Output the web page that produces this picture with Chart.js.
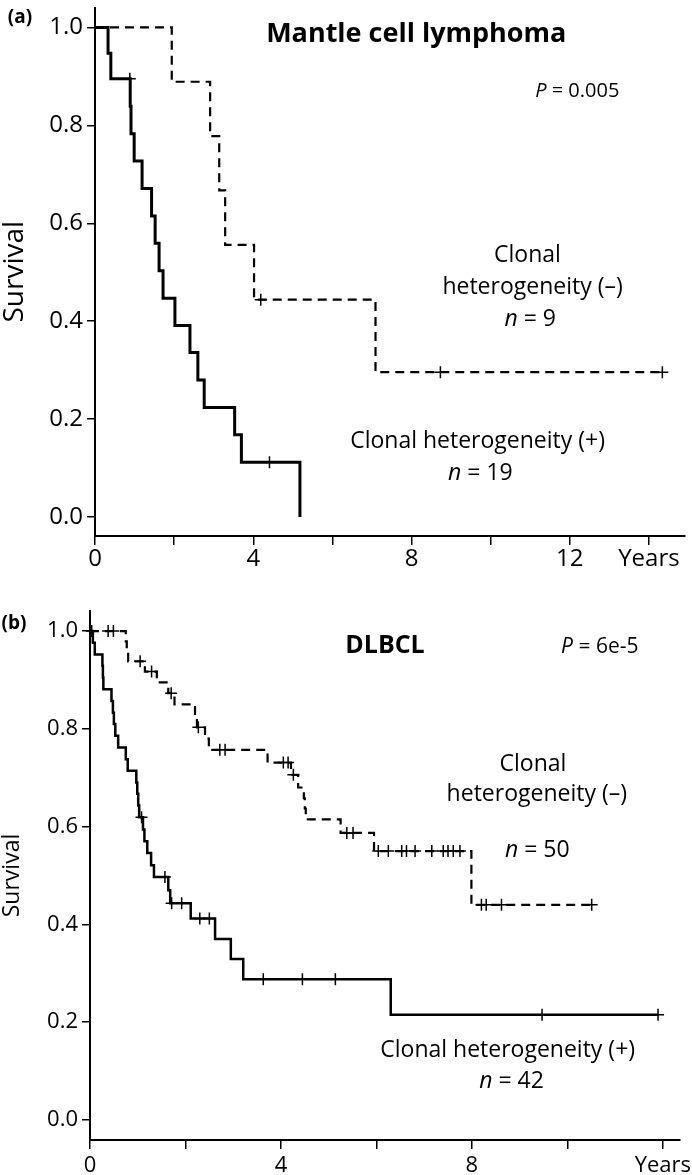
<!DOCTYPE html>
<html>
<head>
<meta charset="utf-8">
<script src="https://cdn.jsdelivr.net/npm/chart.js@4.4.1/dist/chart.umd.min.js"></script>
<style>
  body { margin: 0; background: #fff; }
  #wrap { position: relative; width: 692px; height: 1175px; overflow: hidden; }
  canvas { position: absolute; left: 0; }
</style>
</head>
<body>
<div id="wrap">
  <canvas id="mclChart" width="692" height="580" style="top:0"></canvas>
  <canvas id="dlbclChart" width="692" height="595" style="top:580px"></canvas>
</div>
<script>
// ---- (a) Mantle cell lymphoma ----
const mclPosTimes = [0, 0.33, 0.40, 0.89, 0.91, 0.99, 1.19, 1.43, 1.52, 1.62, 1.72, 2.02, 2.40, 2.60, 2.76, 3.53, 3.70, 5.18];
const mclPosSurv = [1, 0.947, 0.895, 0.839, 0.783, 0.727, 0.671, 0.615, 0.559, 0.503, 0.447, 0.391, 0.336, 0.280, 0.224, 0.168, 0.112, 0];
const mclPosCensor = [0.88, 4.41];

const mclNegTimes = [0, 1.94, 2.91, 3.14, 3.29, 4.02, 7.09];
const mclNegSurv = [1, 0.889, 0.778, 0.667, 0.556, 0.444, 0.296];
const mclNegCensor = [4.19, 8.73, 14.34];

const mclXTicks = [0, 2, 4, 6, 8, 10, 12, 14];

// ---- (b) DLBCL ----
const dlbclPosTimes = [0, 0.06, 0.10, 0.26, 0.27, 0.28, 0.45, 0.48, 0.50, 0.53, 0.59, 0.75, 0.79, 0.97, 0.99, 1.01, 1.03, 1.11, 1.14, 1.20, 1.28, 1.34, 1.64, 1.68, 2.11, 2.62, 2.95, 3.21, 6.30];
const dlbclPosSurv = [1, 0.976, 0.952, 0.929, 0.905, 0.881, 0.857, 0.833, 0.810, 0.786, 0.762, 0.738, 0.714, 0.690, 0.667, 0.643, 0.619, 0.594, 0.570, 0.546, 0.521, 0.497, 0.470, 0.443, 0.412, 0.370, 0.329, 0.288, 0.215];
const dlbclPosCensor = [1.08, 1.57, 1.71, 1.92, 2.30, 2.50, 3.63, 4.45, 5.14, 9.47, 11.90];

const dlbclNegTimes = [0, 0.75, 0.77, 0.80, 1.15, 1.40, 1.64, 1.77, 2.20, 2.24, 2.41, 2.49, 3.72, 4.21, 4.36, 4.48, 4.50, 4.52, 5.25, 5.95, 7.99];
const dlbclNegSurv = [1, 0.979, 0.957, 0.938, 0.917, 0.895, 0.873, 0.850, 0.826, 0.803, 0.780, 0.757, 0.731, 0.706, 0.680, 0.658, 0.637, 0.615, 0.587, 0.550, 0.440];
const dlbclNegCensor = [0.035, 0.38, 0.49, 1.05, 1.29, 1.70, 2.27, 2.72, 2.83, 4.05, 4.15, 4.26, 5.38, 5.51, 6.04, 6.25, 6.53, 6.63, 6.81, 7.16, 7.40, 7.50, 7.61, 7.75, 8.20, 8.30, 8.62, 10.51];

const dlbclXTicks = [0, 2, 4, 6, 8, 10, 12];
const survTicks = [0, 0.2, 0.4, 0.6, 0.8, 1.0];

const FONT = "'Open Sans', 'Noto Sans', sans-serif";

// survival value of a step curve at time t
function survAt(times, surv, t) {
    let s = surv[0];
    for (let i = 0; i < times.length; i++) {
        if (times[i] <= t) s = surv[i];
    }
    return s;
}

// step points, extended to the last censored patient
function kmPoints(times, surv, censor) {
    const pts = times.map((t, i) => ({ x: t, y: surv[i] }));
    const lastCensor = Math.max(...censor);
    if (lastCensor > times[times.length - 1]) {
        pts.push({ x: lastCensor, y: surv[surv.length - 1] });
    }
    return pts;
}

function censorPoints(times, surv, censor) {
    return censor.map(t => ({ x: t, y: survAt(times, surv, t) }));
}

function curve(points, dashed, width) {
    return {
        data: points,
        stepped: true,
        borderColor: '#000',
        borderWidth: width,
        borderDash: dashed ? [9, 6] : [],
        pointRadius: 0,
        fill: false,
        clip: false
    };
}

function marks(points) {
    return {
        data: points,
        showLine: false,
        pointStyle: 'cross',
        pointRadius: 6,
        pointBorderWidth: 1.5,
        pointBorderColor: '#000',
        pointBackgroundColor: '#000',
        clip: false
    };
}

// free text drawn at data coordinates, with italic runs
const textLabels = {
    id: 'textLabels',
    afterDraw(chart, args, opts) {
        const ctx = chart.ctx;
        const xs = chart.scales.x, ys = chart.scales.y;
        ctx.save();
        ctx.fillStyle = '#000';
        ctx.textBaseline = 'middle';
        ctx.textAlign = 'left';
        (opts.items || []).forEach(item => {
            const cx = item.px !== undefined ? item.px : xs.getPixelForValue(item.x);
            const cy = item.py !== undefined ? item.py : ys.getPixelForValue(item.y);
            const fontOf = p => `${p.italic ? 'italic ' : ''}${item.bold ? 'bold ' : ''}${item.size}px ${FONT}`;
            let total = 0;
            item.parts.forEach(p => { ctx.font = fontOf(p); total += ctx.measureText(p.t).width; });
            let x = cx - total / 2;
            item.parts.forEach(p => {
                ctx.font = fontOf(p);
                ctx.fillText(p.t, x, cy);
                x += ctx.measureText(p.t).width;
            });
        });
        ctx.restore();
    }
};

function axes(cfg) {
    return {
        x: {
            type: 'linear',
            min: 0,
            max: cfg.xMax,
            afterBuildTicks: s => { s.ticks = cfg.xTicks.map(v => ({ value: v })); },
            afterFit: s => { s.height = cfg.xHeight; s.paddingLeft = 0; s.paddingRight = 0; },
            grid: { drawOnChartArea: false, drawTicks: true, tickLength: 9, color: '#000', lineWidth: 1.5 },
            border: { display: true, color: '#000', width: 2 },
            ticks: {
                color: '#000',
                font: { family: FONT, size: cfg.tickSize },
                padding: cfg.xPad,
                maxRotation: 0,
                autoSkip: false,
                callback: v => (v === cfg.yearsAt ? 'Years' : (v % 4 === 0 ? String(v) : ''))
            }
        },
        y: {
            type: 'linear',
            min: cfg.yMin,
            max: cfg.yMax,
            afterBuildTicks: s => { s.ticks = survTicks.map(v => ({ value: v })); },
            afterFit: s => { s.width = cfg.yWidth; s.paddingTop = 0; s.paddingBottom = 0; },
            grid: { drawOnChartArea: false, drawTicks: true, tickLength: 8, color: '#000', lineWidth: 1.5 },
            border: { display: true, color: '#000', width: 2 },
            ticks: {
                color: '#000',
                font: { family: FONT, size: cfg.tickSize },
                padding: 4,
                callback: v => v.toFixed(1)
            },
            title: {
                display: true,
                text: 'Survival',
                color: '#000',
                font: { family: FONT, size: cfg.titleSize, lineHeight: 1.1 },
                padding: { top: 0, bottom: 0 }
            }
        }
    };
}

new Chart(document.getElementById('mclChart'), {
    type: 'line',
    data: {
        datasets: [
            curve(kmPoints(mclPosTimes, mclPosSurv, mclPosCensor), false, 3),
            curve(kmPoints(mclNegTimes, mclNegSurv, mclNegCensor), true, 2.2),
            marks(censorPoints(mclPosTimes, mclPosSurv, mclPosCensor)),
            marks(censorPoints(mclNegTimes, mclNegSurv, mclNegCensor))
        ]
    },
    options: {
        responsive: false,
        animation: false,
        events: [],
        layout: { padding: { left: 0, right: 4, top: 5, bottom: 0 } },
        plugins: {
            legend: { display: false },
            tooltip: { enabled: false },
            textLabels: {
                items: [
                    { parts: [{ t: '(a)' }], px: 20, py: 18, size: 19, bold: true },
                    { parts: [{ t: 'Mantle cell lymphoma' }], x: 8.12, y: 0.985, size: 27, bold: true },
                    { parts: [{ t: 'P', italic: true }, { t: ' = 0.005' }], x: 12.19, y: 0.869, size: 20 },
                    { parts: [{ t: 'Clonal' }], x: 10.93, y: 0.534, size: 23 },
                    { parts: [{ t: 'heterogeneity (\u2013)' }], x: 11.06, y: 0.469, size: 23 },
                    { parts: [{ t: 'n', italic: true }, { t: ' = 9' }], x: 11.0, y: 0.404, size: 23 },
                    { parts: [{ t: 'Clonal heterogeneity (+)' }], x: 9.67, y: 0.154, size: 23 },
                    { parts: [{ t: 'n', italic: true }, { t: ' = 19' }], x: 9.74, y: 0.089, size: 23 }
                ]
            }
        },
        scales: axes({ xMax: 14.9, xTicks: mclXTicks, yearsAt: 14, xHeight: 44, yWidth: 95,
                       yMin: -0.0386, yMax: 1.0406, tickSize: 24, titleSize: 28, xPad: 0 })
    },
    plugins: [textLabels]
});

new Chart(document.getElementById('dlbclChart'), {
    type: 'line',
    data: {
        datasets: [
            curve(kmPoints(dlbclPosTimes, dlbclPosSurv, dlbclPosCensor), false, 2.5),
            curve(kmPoints(dlbclNegTimes, dlbclNegSurv, dlbclNegCensor), true, 2.2),
            marks(censorPoints(dlbclPosTimes, dlbclPosSurv, dlbclPosCensor)),
            marks(censorPoints(dlbclNegTimes, dlbclNegSurv, dlbclNegCensor))
        ]
    },
    options: {
        responsive: false,
        animation: false,
        events: [],
        layout: { padding: { left: 0, right: 12, top: 31, bottom: 0 } },
        plugins: {
            legend: { display: false },
            tooltip: { enabled: false },
            textLabels: {
                items: [
                    { parts: [{ t: '(b)' }], px: 14, py: 44, size: 19, bold: true },
                    { parts: [{ t: 'DLBCL' }], x: 6.18, y: 0.969, size: 25, bold: true },
                    { parts: [{ t: 'P', italic: true }, { t: ' = 6e-5' }], x: 10.68, y: 0.967, size: 21 },
                    { parts: [{ t: 'Clonal' }], x: 9.28, y: 0.728, size: 23 },
                    { parts: [{ t: 'heterogeneity (\u2013)' }], x: 9.36, y: 0.666, size: 23 },
                    { parts: [{ t: 'n', italic: true }, { t: ' = 50' }], x: 9.37, y: 0.552, size: 23 },
                    { parts: [{ t: 'Clonal heterogeneity (+)' }], x: 8.75, y: 0.143, size: 23 },
                    { parts: [{ t: 'n', italic: true }, { t: ' = 42' }], x: 8.83, y: 0.079, size: 23 }
                ]
            }
        },
        scales: axes({ xMax: 12.36, xTicks: dlbclXTicks, yearsAt: 12, xHeight: 35, yWidth: 90,
                       yMin: -0.041, yMax: 1.041, tickSize: 22, titleSize: 23, xPad: 4 })
    },
    plugins: [textLabels]
});
</script>
</body>
</html>
